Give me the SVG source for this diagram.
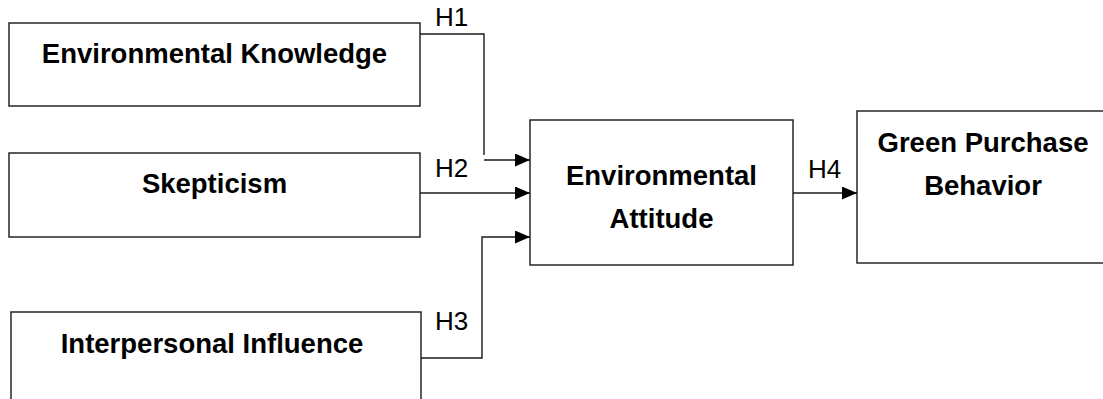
<svg xmlns="http://www.w3.org/2000/svg" width="1103" height="399" viewBox="0 0 1103 399">
  <style>
    .box { fill: #ffffff; stroke: #262626; stroke-width: 1.5; }
    .lbl { font-family: "Liberation Sans", Arial, sans-serif; font-weight: bold; font-size: 27.5px; fill: #000000; text-anchor: middle; }
    .hyp { font-family: "Liberation Sans", Arial, sans-serif; font-size: 26px; fill: #000000; }
    .conn { fill: none; stroke: #1a1a1a; stroke-width: 1.4; }
  </style>
  <defs>
    <marker id="arrow" viewBox="0 0 15 13" refX="15" refY="6.5" markerWidth="15" markerHeight="13" markerUnits="userSpaceOnUse" orient="auto">
      <path d="M0,0 L15,6.5 L0,13 Z" fill="#000000"/>
    </marker>
  </defs>
  <rect width="1103" height="399" fill="#ffffff"/>

  <g id="node-knowledge">
    <rect class="box" x="9" y="23" width="411" height="83"/>
    <text class="lbl" x="214.5" y="63">Environmental Knowledge</text>
  </g>
  <g id="node-skepticism">
    <rect class="box" x="9" y="153" width="411" height="84"/>
    <text class="lbl" x="214.5" y="193">Skepticism</text>
  </g>
  <g id="node-influence">
    <rect class="box" x="11" y="312" width="410" height="100"/>
    <text class="lbl" x="212" y="353">Interpersonal Influence</text>
  </g>
  <g id="node-attitude">
    <rect class="box" x="530" y="120" width="263" height="145"/>
    <text class="lbl" x="661.5" y="185">Environmental</text>
    <text class="lbl" x="661.5" y="228">Attitude</text>
  </g>
  <g id="node-behavior">
    <rect class="box" x="857" y="111" width="260" height="152"/>
    <text class="lbl" x="983" y="152">Green Purchase</text>
    <text class="lbl" x="983" y="195">Behavior</text>
  </g>

  <g id="connectors">
    <polyline class="conn" points="420,34 484,34 484,155"/>
    <line class="conn" x1="484" y1="160" x2="530" y2="160" marker-end="url(#arrow)"/>
    <line class="conn" x1="420" y1="193" x2="530" y2="193" marker-end="url(#arrow)"/>
    <polyline class="conn" points="421,358 482,358 482,237 530,237" marker-end="url(#arrow)"/>
    <line class="conn" x1="793" y1="193" x2="857" y2="193" marker-end="url(#arrow)"/>
    <text class="hyp" x="435" y="26">H1</text>
    <text class="hyp" x="435" y="177">H2</text>
    <text class="hyp" x="435" y="330">H3</text>
    <text class="hyp" x="808" y="178">H4</text>
  </g>
</svg>
